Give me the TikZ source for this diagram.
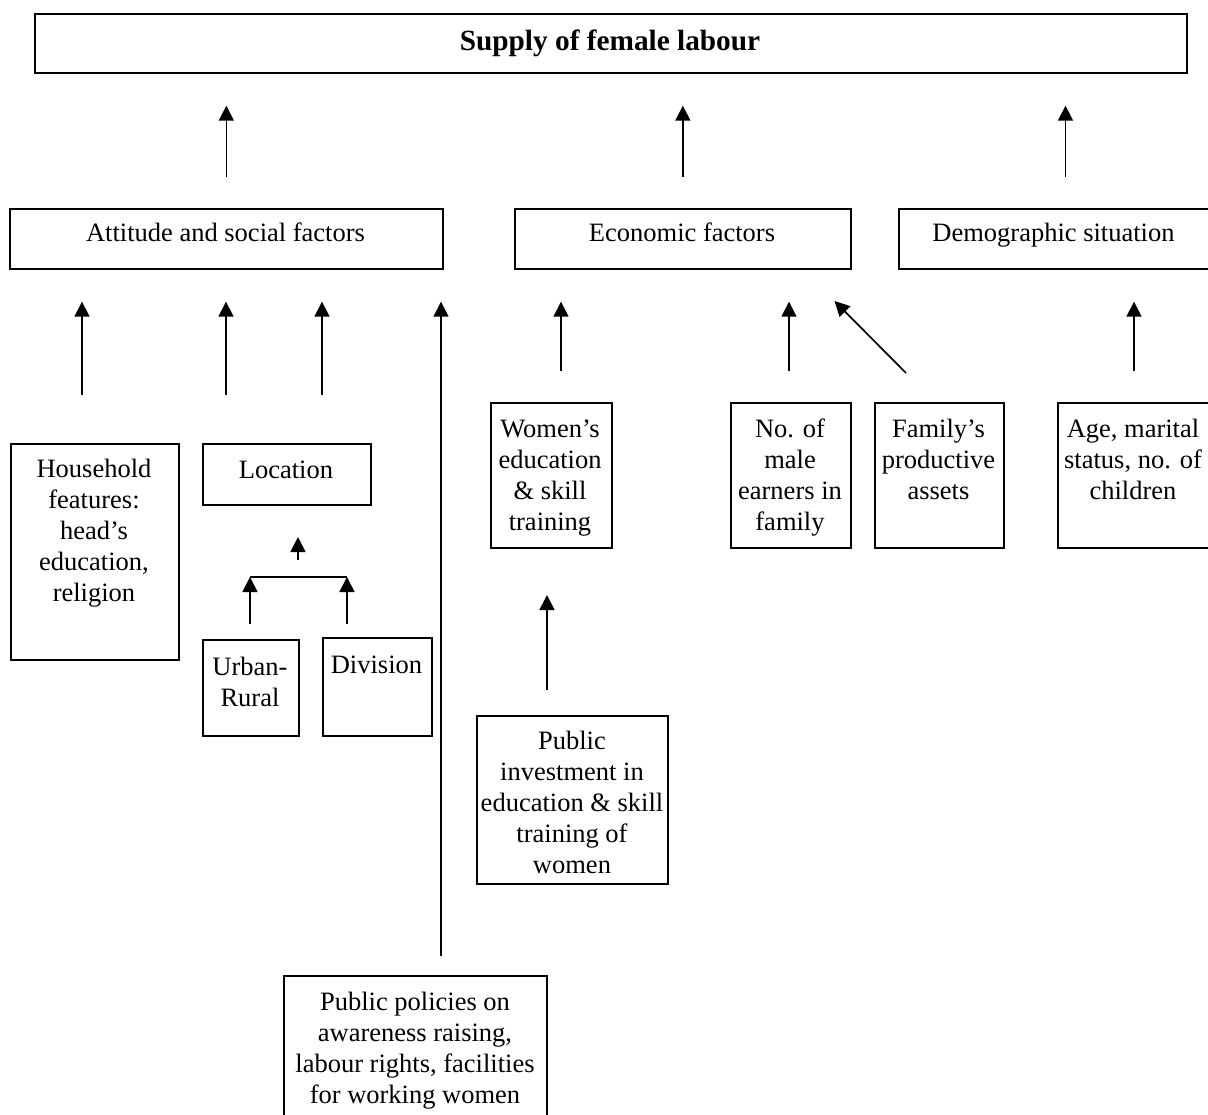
\documentclass[tikz,border=0pt]{standalone}
\usepackage{fontspec}
\setmainfont{Liberation Serif}
\usetikzlibrary{arrows.meta}
\begin{document}
\begin{tikzpicture}[x=1pt,y=-1pt,
  box/.style={draw, line width=1.7pt, inner sep=0pt, anchor=north west},
  txt/.style={font=\fontsize{26.5}{31}\selectfont, align=center, inner sep=0pt},
  arr/.style={line width=1.7pt, -{Triangle[length=15pt,width=15pt]}}]
\useasboundingbox (0,0) rectangle (1208,1115);

% boxes
\node[box, minimum width=1152pt, minimum height=59pt] (top) at (34,13) {};
\node[box, minimum width=433pt, minimum height=60pt] (att) at (9,208) {};
\node[box, minimum width=336pt, minimum height=60pt] (eco) at (514,208) {};
\node[box, minimum width=311pt, minimum height=60pt] (dem) at (898,208) {};
\node[box, minimum width=168pt, minimum height=216pt] (hh) at (10,443) {};
\node[box, minimum width=168pt, minimum height=61pt] (loc) at (202,443) {};
\node[box, minimum width=96pt, minimum height=96pt] (ur) at (202,639) {};
\node[box, minimum width=109pt, minimum height=98pt] (div) at (322,637) {};
\node[box, minimum width=121pt, minimum height=145pt] (wom) at (490,402) {};
\node[box, minimum width=120pt, minimum height=145pt] (male) at (730,402) {};
\node[box, minimum width=129pt, minimum height=145pt] (fam) at (874,402) {};
\node[box, minimum width=152pt, minimum height=145pt] (age) at (1057,402) {};
\node[box, minimum width=191pt, minimum height=168pt] (pinv) at (476,715) {};
\node[box, minimum width=263pt, minimum height=160pt] (ppol) at (283,975) {};

% texts
\node[txt, font=\fontsize{29.3}{34}\selectfont\bfseries, anchor=base] (topt) at (610,51) {Supply of female labour};
\node[txt, anchor=base] (attt) at (225.5,242) {Attitude and social factors};
\node[txt, anchor=base] (ecot) at (682,242) {Economic factors};
\node[txt, anchor=base] (demt) at (1053.5,242) {Demographic situation};
\node[txt, anchor=north] (hht) at (94,455.3) {\strut Household\\features:\\head’s\\education,\\religion};
\node[txt, anchor=base] (loct) at (286,478) {Location};
\node[txt, anchor=north] (urt) at (250,653.3) {\strut Urban-\\Rural};
\node[txt, anchor=base] (divt) at (376.5,673) {Division};
\node[txt, anchor=north] (womt) at (550,415.3) {\strut Women’s\\education\\\& skill\\training};
\node[txt, anchor=north] (malet) at (790,415.3) {\strut No. of\\male\\earners in\\family};
\node[txt, anchor=north] (famt) at (938.5,415.3) {\strut Family’s\\productive\\assets};
\node[txt, anchor=north] (aget) at (1133,415.3) {\strut Age, marital\\status, no. of\\children};
\node[txt, anchor=north] (pinvt) at (572,727.3) {\strut Public\\investment in\\education \& skill\\training of\\women};
\node[txt, anchor=north] (ppolt) at (415,988.3) {\strut Public policies on\\awareness raising,\\labour rights, facilities\\for working women};

% arrow start points
\coordinate (demarr) at (1065.5,177);
\coordinate (s1) at (82,395);
\coordinate (s2) at (226,395);
\coordinate (s3) at (322,395);
\coordinate (s4) at (441,956);
\coordinate (s5) at (561,371);
\coordinate (s6) at (789,371);
\coordinate (s7) at (906,373);
\coordinate (e7) at (834.5,301);
\coordinate (s8) at (1134,371);
\coordinate (locs) at (298,560);
\coordinate (loce) at (298,537);
\coordinate (brl) at (250,577);
\coordinate (brr) at (347,577);
\coordinate (urs) at (250,624);
\coordinate (divs) at (347,624);
\coordinate (pinvs) at (547,690);
\coordinate (pinve) at (547,595);

% arrows to top
\draw[arr, shorten <=31pt, shorten >=32pt] (att.north) -- (att.north |- top.south);
\draw[arr, shorten <=31pt, shorten >=32pt] (eco.north) -- (eco.north |- top.south);
\draw[arr, shorten >=32pt] (demarr) -- (demarr |- top.south);

% arrows to second row
\draw[arr, shorten >=32pt] (s1) -- (s1 |- att.south);
\draw[arr, shorten >=32pt] (s2) -- (s2 |- att.south);
\draw[arr, shorten >=32pt] (s3) -- (s3 |- att.south);
\draw[arr, shorten >=32pt] (s4) -- (s4 |- att.south);
\draw[arr, shorten >=32pt] (s5) -- (s5 |- eco.south);
\draw[arr, shorten >=32pt] (s6) -- (s6 |- eco.south);
\draw[arr] (s7) -- (e7);
\draw[arr, shorten >=32pt] (s8) -- (s8 |- dem.south);

% location sub-arrows
\draw[arr] (locs) -- (loce);
\draw[line width=1.7pt] (brl) -- (brr);
\draw[arr] (urs) -- (brl);
\draw[arr] (divs) -- (brr);

% public investment arrow
\draw[arr] (pinvs) -- (pinve);
\end{tikzpicture}
\end{document}
